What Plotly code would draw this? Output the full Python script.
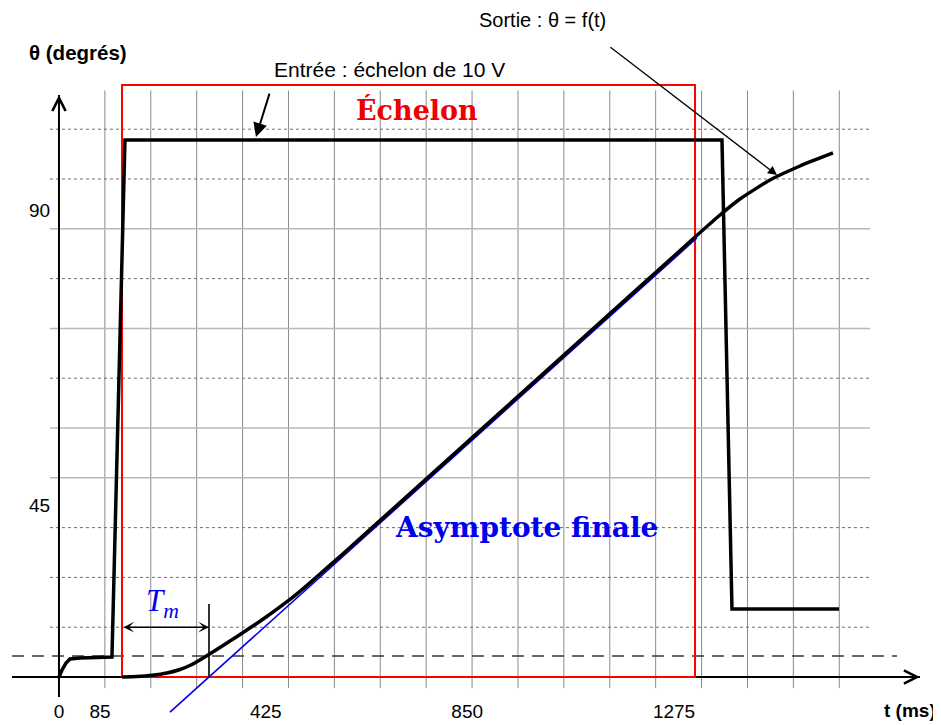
import plotly.graph_objects as go

# ---------------- data (time in ms, angle in degrees) ----------------
# one grid division: 85 ms horizontally, 9 degrees vertically
t_tick_vals = [0, 76, 383, 756, 1139]
t_tick_text = ["0", "85", "425", "850", "1275"]
theta_tick_vals = [31.1, 84.4]
theta_tick_text = ["45", "90"]

grid_t = [85, 170, 255, 340, 425, 510, 595, 680, 765, 850, 935, 1020,
          1105, 1190, 1275, 1360, 1445]
grid_theta = [9, 18, 27, 36, 45, 54, 63, 72, 81, 90, 99]
grid_theta_dash = ["dot", "dot", "dot", "solid", "solid", "dot", "solid",
                   "dot", "solid", "dot", "dot"]

# input: voltage step (drawn on the angle scale)
input_t = [0, 5.6, 13.0, 20.4, 38.9, 98.1, 122.2, 1227.8, 1246.3, 1444.5]
input_theta = [0, 1.27, 2.53, 3.25, 3.43, 3.61, 97.05, 97.05, 12.29, 12.29]

# output: theta = f(t)
output_t = [116.7, 144.4, 172.2, 200.0, 224.1, 246.3, 268.5, 290.7, 316.7,
            344.4, 372.2, 400.0, 427.8, 455.6, 483.3, 511.1, 538.9, 631.5,
            724.1, 816.7, 909.3, 1001.9, 1094.5, 1181.5, 1224.1, 1261.1,
            1316.7, 1372.3, 1433.4]
output_theta = [0, 0.09, 0.31, 0.72, 1.36, 2.26, 3.52, 4.88, 6.51, 8.26,
                10.07, 12.00, 14.02, 16.26, 18.61, 21.00, 23.40, 31.52,
                39.65, 47.78, 55.91, 64.05, 72.18, 79.82, 83.49, 86.38,
                89.82, 92.35, 94.70]

# final asymptote
asym_t = [205.6, 1181.5]
asym_theta = [-6.33, 79.34]

# step window ("Échelon" box)
step_start, step_end, step_top = 116.7, 1177.9, 107.0
# Tm: intersection of asymptote with t axis
tm_end = 277.8
tm_level = 9.0
tm_top = 13.2
dashed_level = 3.8

# axis extents
t_axis = [-87, 1594.5]
theta_axis = [-3.6, 105.2]

# the page body has an 8px margin: the figure is sized to the visible area
X_RANGE = [-94.4, 1633.4]
Y_RANGE = [-8.67, 120.9]

SANS = "Liberation Sans, Arial, sans-serif"
SERIF = "DejaVu Serif, serif"

fig = go.Figure()

# ---------------- grid ----------------
shapes = []
for t in grid_t:
    shapes.append(dict(type="line", xref="x", yref="y", x0=t, x1=t,
                       y0=-2.0, y1=106.0, layer="below",
                       line=dict(color="#8a8a8a", width=1)))
for th, d in zip(grid_theta, grid_theta_dash):
    if d == "dot":
        ln = dict(color="#6e6e6e", width=1, dash="dot")
    else:
        ln = dict(color="#b8b8b8", width=1.5)
    shapes.append(dict(type="line", xref="x", yref="y", x0=-16.7, x1=1502,
                       y0=th, y1=th, layer="below", line=ln))
shapes.append(dict(type="line", xref="x", yref="y", x0=-87, x1=1552,
                   y0=dashed_level, y1=dashed_level, layer="below",
                   line=dict(color="#3a3a3a", width=1.5, dash="12px,8px")))

# ---------------- axes lines ----------------
fig.add_trace(go.Scatter(x=t_axis, y=[0, 0], mode="lines",
                         line=dict(color="black", width=2), hoverinfo="skip"))
fig.add_trace(go.Scatter(x=[0, 0], y=theta_axis, mode="lines",
                         line=dict(color="black", width=2), hoverinfo="skip"))

# ---------------- step box ----------------
fig.add_trace(go.Scatter(
    x=[step_start, step_start, step_end, step_end, step_start],
    y=[0, step_top, step_top, 0, 0], mode="lines",
    line=dict(color="#ff0000", width=2), hoverinfo="skip"))

# ---------------- asymptote ----------------
fig.add_trace(go.Scatter(x=asym_t, y=asym_theta, mode="lines",
                         line=dict(color="#0000ee", width=1.6),
                         hoverinfo="skip"))

# ---------------- input and output ----------------
fig.add_trace(go.Scatter(x=input_t, y=input_theta, mode="lines",
                         line=dict(color="black", width=3.5),
                         hoverinfo="skip"))
fig.add_trace(go.Scatter(x=output_t, y=output_theta, mode="lines",
                         line=dict(color="black", width=3.5, shape="spline",
                                   smoothing=0.5),
                         hoverinfo="skip"))

# Tm vertical marker
fig.add_trace(go.Scatter(x=[tm_end, tm_end], y=[0, tm_top], mode="lines",
                         line=dict(color="black", width=1.6),
                         hoverinfo="skip"))

fig.update_traces(showlegend=False)

annotations = []
# axis arrowheads
annotations.append(dict(x=t_axis[1], y=0, xref="x", yref="y", ax=-18, ay=0,
                        text="", showarrow=True, arrowhead=5, arrowsize=1.3,
                        arrowwidth=2, arrowcolor="black", standoff=0))
annotations.append(dict(x=0, y=theta_axis[1], xref="x", yref="y", ax=0, ay=18,
                        text="", showarrow=True, arrowhead=5, arrowsize=1.3,
                        arrowwidth=2, arrowcolor="black", standoff=0))
# Tm double arrow
annotations.append(dict(x=tm_end, y=tm_level, ax=step_start, ay=tm_level,
                        xref="x", yref="y", axref="x", ayref="y", text="",
                        showarrow=True, arrowhead=3, arrowside="end+start",
                        arrowsize=1.2, arrowwidth=1.5, arrowcolor="black",
                        standoff=0, startstandoff=0))
# label arrows
annotations.append(dict(x=364.8, y=97.6, ax=390.7, ay=105.7, xref="x",
                        yref="y", axref="x", ayref="y", text="",
                        showarrow=True, arrowhead=2, arrowsize=1.4,
                        arrowwidth=2, arrowcolor="black", standoff=0))
annotations.append(dict(x=1329.7, y=90.7, ax=1018.5, ay=114.0, xref="x",
                        yref="y", axref="x", ayref="y", text="",
                        showarrow=True, arrowhead=2, arrowsize=1.4,
                        arrowwidth=1.3, arrowcolor="black", standoff=0))

def txt(x, y, s, size, color="black", family=SANS, **kw):
    annotations.append(dict(x=x, y=y, xref="x", yref="y", text=s,
                            showarrow=False,
                            font=dict(size=size, color=color, family=family),
                            **kw))

txt(613, 109.7, "Entrée : échelon de 10 V", 21)
txt(896, 118.7, "Sortie : θ = f(t)", 20)
txt(35.2, 112.9, "<b>θ (degrés)</b>", 20.5)
txt(1576, -5.96, "<b>t (ms)</b>", 19)
txt(663, 102.5, "<b>Échelon</b>", 27, color="#ee0000", family=SERIF)
txt(866.7, 27.1, "<b>Asymptote finale</b>", 28, color="#0000ee", family=SERIF)
txt(192, 13.3, "<i>T</i><sub><i>m</i></sub>", 31, color="#0000ee",
    family="Liberation Serif, serif")

fig.update_layout(
    width=933, height=717,
    margin=dict(l=0, r=0, t=0, b=0),
    paper_bgcolor="white", plot_bgcolor="white",
    shapes=shapes, annotations=annotations,
    showlegend=False,
    xaxis=dict(range=X_RANGE, showgrid=False, zeroline=False, showline=False,
               tickmode="array", tickvals=t_tick_vals, ticktext=t_tick_text,
               ticks="", ticklabelposition="inside",
               tickfont=dict(family=SANS, size=19, color="black"),
               fixedrange=True),
    yaxis=dict(range=Y_RANGE, showgrid=False, zeroline=False, showline=False,
               tickmode="array", tickvals=theta_tick_vals,
               ticktext=theta_tick_text, ticks="",
               ticklabelposition="inside", ticklabelstandoff=18,
               tickfont=dict(family=SANS, size=19, color="black"),
               fixedrange=True),
)

fig.write_html("out.html")
